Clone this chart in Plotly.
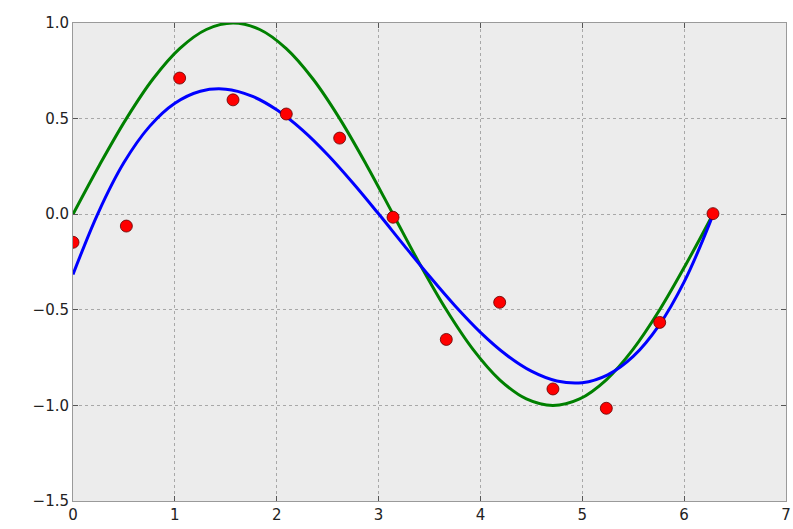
import plotly.graph_objects as go

# Red data points
pts_x = [0.0, 0.524, 1.047, 1.571, 2.094, 2.618, 3.142, 3.665, 4.189, 4.712, 5.236, 5.760, 6.283]
pts_y = [-0.147, -0.062, 0.712, 0.598, 0.524, 0.398, -0.016, -0.655, -0.461, -0.914, -1.015, -0.566, 0.003]

# Green curve (true curve) samples
green_x = [0.0, 0.262, 0.524, 0.785, 1.047, 1.309, 1.571, 1.833, 2.094, 2.356, 2.618, 2.880, 3.142,
           3.403, 3.665, 3.927, 4.189, 4.451, 4.712, 4.974, 5.236, 5.498, 5.760, 6.021, 6.283]
green_y = [0.0, 0.259, 0.5, 0.707, 0.866, 0.966, 1.0, 0.966, 0.866, 0.707, 0.5, 0.259, 0.0,
           -0.259, -0.5, -0.707, -0.866, -0.966, -1.0, -0.966, -0.866, -0.707, -0.5, -0.259, 0.0]

# Blue curve (fitted) samples
blue_x = [0.0, 0.25, 0.5, 0.75, 1.0, 1.25, 1.5, 1.75, 2.0, 2.25, 2.5, 2.75, 3.0, 3.25, 3.5, 3.75,
          4.0, 4.25, 4.5, 4.75, 5.0, 5.25, 5.5, 5.75, 6.0, 6.25, 6.283]
blue_y = [-0.315, 0.010, 0.270, 0.458, 0.580, 0.643, 0.654, 0.619, 0.546, 0.441, 0.311, 0.162,
          0.002, -0.163, -0.325, -0.479, -0.618, -0.734, -0.821, -0.872, -0.881, -0.840, -0.744,
          -0.584, -0.354, -0.048, 0.0]

x_ticks = [0, 1, 2, 3, 4, 5, 6, 7]
y_ticks = [-1.5, -1.0, -0.5, 0.0, 0.5, 1.0]
y_tick_text = ["\u22121.5", "\u22121.0", "\u22120.5", "0.0", "0.5", "1.0"]

fig = go.Figure()
fig.add_trace(go.Scatter(x=green_x, y=green_y, mode="lines",
                         line=dict(color="#008000", width=3, shape="spline"), showlegend=False))
fig.add_trace(go.Scatter(x=blue_x, y=blue_y, mode="lines",
                         line=dict(color="#0000ff", width=3, shape="spline"), showlegend=False))
fig.add_trace(go.Scatter(x=pts_x, y=pts_y, mode="markers",
                         marker=dict(color="#ff0000", size=12, line=dict(color="#600000", width=0.8)),
                         showlegend=False))

axis_common = dict(
    showgrid=True, gridcolor="#a8a8a8", griddash="3px,3px", gridwidth=1,
    showline=True, linecolor="#9a9a9a", linewidth=1, mirror="ticks",
    ticks="inside", ticklen=5, tickcolor="#555555", tickwidth=1,
    zeroline=False, ticklabeloverflow="allow",
    tickfont=dict(family="DejaVu Sans", size=15, color="#222222"),
)

fig.update_xaxes(range=[0, 7], tickvals=x_ticks, ticktext=[str(t) for t in x_ticks], **axis_common)
fig.update_yaxes(range=[-1.5, 1.0], tickvals=y_ticks, ticktext=y_tick_text, **axis_common)

fig.update_layout(
    width=793, height=529,
    margin=dict(l=73, r=2, t=23, b=28),
    plot_bgcolor="#ececec", paper_bgcolor="#ffffff",
)

fig.write_html("out.html")
